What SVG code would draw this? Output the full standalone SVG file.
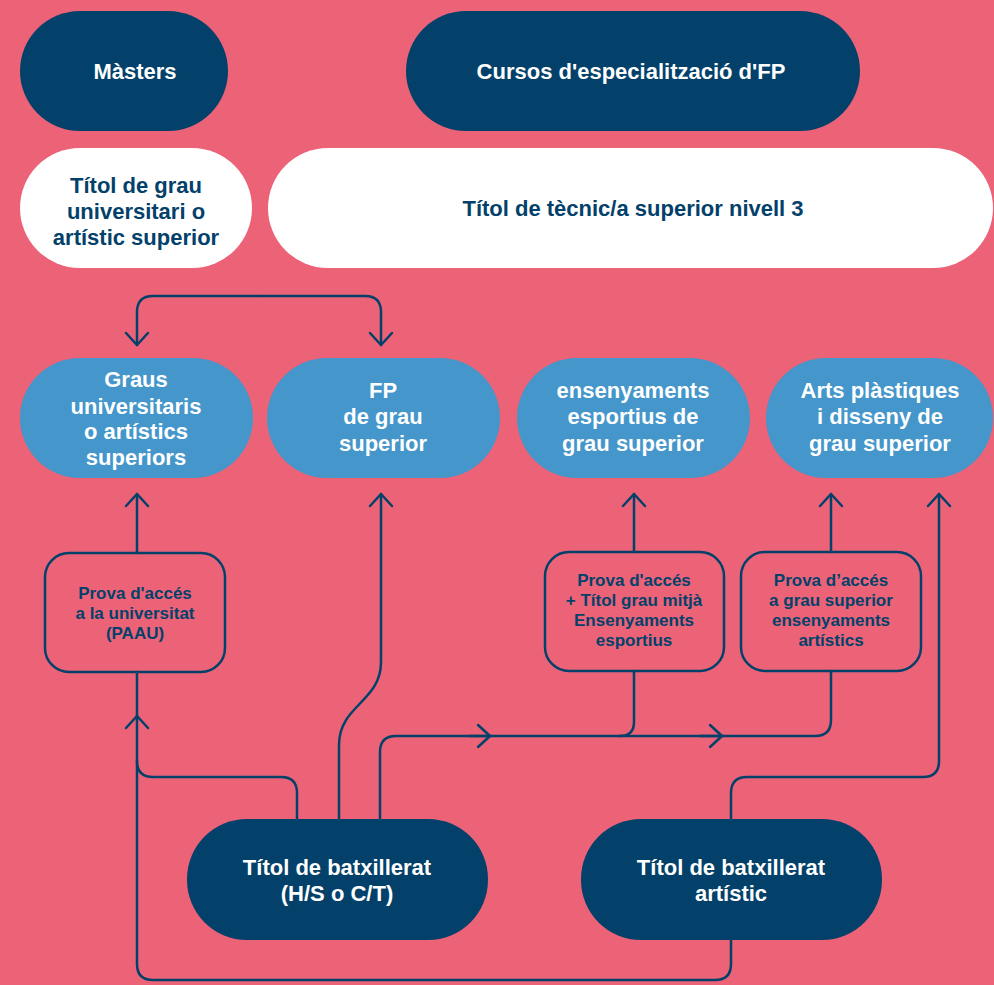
<svg xmlns="http://www.w3.org/2000/svg" width="994" height="985" viewBox="0 0 994 985">
<defs>
<style>
.navy{fill:#03416a}
.white{fill:#ffffff}
.blue{fill:#4496cb}
.box{fill:none;stroke:#03416a;stroke-width:2.5}
.t{font-family:"Liberation Sans",Arial,sans-serif;font-size:22px;font-weight:bold;text-anchor:middle}
.tw{fill:#ffffff}
.tn{fill:#03416a}
.s{font-family:"Liberation Sans",Arial,sans-serif;font-size:17px;font-weight:bold;text-anchor:middle;fill:#03416a}
.c{fill:none;stroke:#03416a;stroke-width:2.5;stroke-linecap:round;stroke-linejoin:round}
</style>
<marker id="ah" markerUnits="userSpaceOnUse" viewBox="0 0 30 30" markerWidth="30" markerHeight="30" refX="15" refY="15" orient="auto">
<path d="M3,4 L15,15 L3,26" fill="none" stroke="#03416a" stroke-width="2.5" stroke-linecap="round" stroke-linejoin="round"/>
</marker>
</defs>
<rect x="0" y="0" width="994" height="985" fill="#ec6378"/>
<g id="connectors" class="c">
<path d="M259,296 L153,296 Q137,296 137,312 L137,345" marker-end="url(#ah)"/>
<path d="M259,296 L365,296 Q381,296 381,312 L381,345" marker-end="url(#ah)"/>
<path d="M137,553 L137,494" marker-end="url(#ah)"/>
<path d="M297,819 L297,793 Q297,777 281,777 L153,777 Q137,777 137,761 L137,716" marker-end="url(#ah)"/>
<path d="M137,716 L137,672"/>
<path d="M731,940 L731,964 Q731,980 715,980 L153,980 Q137,980 137,964 L137,761"/>
<path d="M339,819 L339,745 C339,705 381,702 381,662 L381,494" marker-end="url(#ah)"/>
<path d="M380,819 L380,752 Q380,736 396,736 L815,736 Q831,736 831,720 L831,671"/>
<path d="M620,736 Q634,736 634,722 L634,671"/>
<path d="M470,736 L490,736" marker-end="url(#ah)"/>
<path d="M700,736 L722,736" marker-end="url(#ah)"/>
<path d="M634,552 L634,494" marker-end="url(#ah)"/>
<path d="M831,552 L831,494" marker-end="url(#ah)"/>
<path d="M731,819 L731,793 Q731,777 747,777 L923,777 Q939,777 939,761 L939,494" marker-end="url(#ah)"/>
</g>
<g id="masters"><rect class="navy" x="20" y="11" width="208" height="120" rx="60"/><text class="t tw" x="135" y="79">Màsters</text></g>
<g id="cursos"><rect class="navy" x="406" y="11" width="454" height="120" rx="60"/><text class="t tw" x="631" y="79">Cursos d'especialització d'FP</text></g>
<g id="titol-grau"><rect class="white" x="20" y="148" width="232" height="120" rx="60"/><text class="t tn" x="136" y="193">Títol de grau</text><text class="t tn" x="136" y="219">universitari o</text><text class="t tn" x="136" y="245">artístic superior</text></g>
<g id="titol-tecnic"><rect class="white" x="268" y="148" width="725" height="120" rx="60"/><text class="t tn" x="633" y="216">Títol de tècnic/a superior nivell 3</text></g>
<g id="graus"><rect class="blue" x="20" y="358" width="233" height="120" rx="60"/><text class="t tw" x="136" y="387">Graus</text><text class="t tw" x="136" y="414">universitaris</text><text class="t tw" x="136" y="439">o artístics</text><text class="t tw" x="136" y="465">superiors</text></g>
<g id="fp"><rect class="blue" x="267" y="358" width="233" height="120" rx="60"/><text class="t tw" x="383" y="398">FP</text><text class="t tw" x="383" y="424">de grau</text><text class="t tw" x="383" y="451">superior</text></g>
<g id="ensenyaments"><rect class="blue" x="517" y="358" width="233" height="120" rx="60"/><text class="t tw" x="633" y="398">ensenyaments</text><text class="t tw" x="633" y="424">esportius de</text><text class="t tw" x="633" y="451">grau superior</text></g>
<g id="arts"><rect class="blue" x="766" y="358" width="227" height="120" rx="60"/><text class="t tw" x="880" y="398">Arts plàstiques</text><text class="t tw" x="880" y="424">i disseny de</text><text class="t tw" x="880" y="451">grau superior</text></g>
<g id="paau"><rect class="box" x="45" y="553" width="180" height="119" rx="24"/><text class="s" x="135" y="599">Prova d'accés</text><text class="s" x="135" y="619">a la universitat</text><text class="s" x="135" y="639">(PAAU)</text></g>
<g id="prova-esportius"><rect class="box" x="545" y="552" width="179" height="119" rx="24"/><text class="s" x="634" y="586">Prova d'accés</text><text class="s" x="634" y="606">+ Títol grau mitjà</text><text class="s" x="634" y="626">Ensenyaments</text><text class="s" x="634" y="646">esportius</text></g>
<g id="prova-artistics"><rect class="box" x="741" y="552" width="180" height="119" rx="24"/><text class="s" x="831" y="586">Prova d’accés</text><text class="s" x="831" y="606">a grau superior</text><text class="s" x="831" y="626">ensenyaments</text><text class="s" x="831" y="646">artístics</text></g>
<g id="batxillerat"><rect class="navy" x="187" y="819" width="301" height="121" rx="60"/><text class="t tw" x="337" y="875">Títol de batxillerat</text><text class="t tw" x="337" y="901">(H/S o C/T)</text></g>
<g id="batxillerat-artistic"><rect class="navy" x="581" y="819" width="301" height="121" rx="60"/><text class="t tw" x="731" y="875">Títol de batxillerat</text><text class="t tw" x="731" y="901">artístic</text></g>
</svg>
